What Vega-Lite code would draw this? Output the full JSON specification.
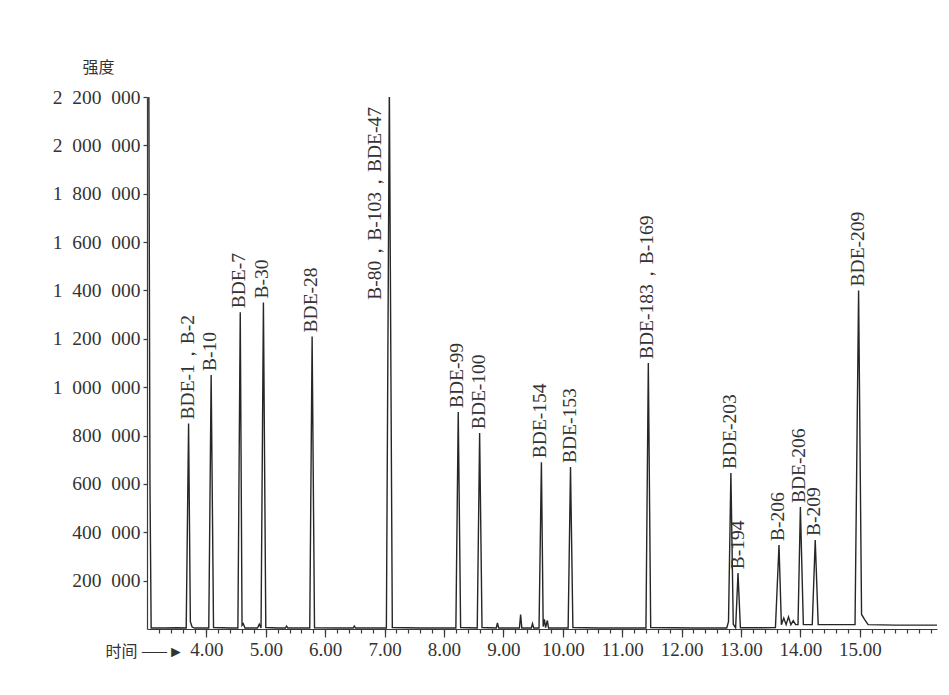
{
  "$schema": "https://vega.github.io/schema/vega-lite/v6.json",
  "width": 790,
  "height": 532,
  "autosize": {"type": "none"},
  "padding": {"left": 147, "top": 97, "right": 12, "bottom": 66},
  "background": "white",
  "config": {
    "view": {"stroke": null},
    "font": "Liberation Serif",
    "axis": {"grid": false, "domainColor": "#3a3a3a", "tickColor": "#3a3a3a", "labelColor": "#333333", "labelFont": "Liberation Serif", "domainWidth": 1.2, "tickWidth": 1.2}
  },
  "datasets": {
    "signal": [
      {"t": 3.03, "v": 2300000}, {"t": 3.05, "v": 600000}, {"t": 3.07, "v": 4000},
      {"t": 3.30, "v": 4000}, {"t": 3.50, "v": 5000}, {"t": 3.66, "v": 4000},
      {"t": 3.70, "v": 850000}, {"t": 3.73, "v": 30000}, {"t": 3.76, "v": 8000}, {"t": 3.80, "v": 4000},
      {"t": 4.04, "v": 4000}, {"t": 4.08, "v": 1050000}, {"t": 4.12, "v": 6000},
      {"t": 4.40, "v": 4000}, {"t": 4.53, "v": 4000}, {"t": 4.57, "v": 1310000}, {"t": 4.60, "v": 15000}, {"t": 4.62, "v": 22000}, {"t": 4.65, "v": 4000},
      {"t": 4.86, "v": 4000}, {"t": 4.89, "v": 20000}, {"t": 4.92, "v": 4000}, {"t": 4.96, "v": 1350000}, {"t": 5.00, "v": 6000},
      {"t": 5.20, "v": 4000}, {"t": 5.33, "v": 4000}, {"t": 5.35, "v": 12000}, {"t": 5.37, "v": 4000},
      {"t": 5.74, "v": 4000}, {"t": 5.78, "v": 1210000}, {"t": 5.82, "v": 5000},
      {"t": 6.20, "v": 4000}, {"t": 6.47, "v": 4000}, {"t": 6.49, "v": 12000}, {"t": 6.51, "v": 4000},
      {"t": 7.03, "v": 4000}, {"t": 7.08, "v": 2250000}, {"t": 7.13, "v": 6000},
      {"t": 7.60, "v": 4000}, {"t": 8.20, "v": 4000}, {"t": 8.24, "v": 897000}, {"t": 8.28, "v": 6000},
      {"t": 8.56, "v": 4000}, {"t": 8.60, "v": 810000}, {"t": 8.64, "v": 6000},
      {"t": 8.88, "v": 4000}, {"t": 8.90, "v": 25000}, {"t": 8.92, "v": 4000},
      {"t": 9.27, "v": 4000}, {"t": 9.29, "v": 60000}, {"t": 9.31, "v": 4000},
      {"t": 9.47, "v": 4000}, {"t": 9.49, "v": 22000}, {"t": 9.51, "v": 4000},
      {"t": 9.60, "v": 4000}, {"t": 9.64, "v": 690000}, {"t": 9.67, "v": 10000}, {"t": 9.69, "v": 40000}, {"t": 9.71, "v": 6000}, {"t": 9.74, "v": 35000}, {"t": 9.76, "v": 4000},
      {"t": 10.09, "v": 4000}, {"t": 10.13, "v": 670000}, {"t": 10.17, "v": 6000},
      {"t": 10.60, "v": 4000}, {"t": 11.40, "v": 4000}, {"t": 11.44, "v": 1100000}, {"t": 11.48, "v": 6000},
      {"t": 12.20, "v": 4000}, {"t": 12.76, "v": 4000}, {"t": 12.79, "v": 30000}, {"t": 12.83, "v": 645000}, {"t": 12.87, "v": 20000}, {"t": 12.91, "v": 5000}, {"t": 12.95, "v": 231000}, {"t": 12.99, "v": 5000},
      {"t": 13.30, "v": 5000}, {"t": 13.58, "v": 6000}, {"t": 13.64, "v": 347000}, {"t": 13.68, "v": 18000}, {"t": 13.72, "v": 45000}, {"t": 13.76, "v": 18000}, {"t": 13.80, "v": 50000}, {"t": 13.84, "v": 18000}, {"t": 13.88, "v": 35000}, {"t": 13.92, "v": 18000},
      {"t": 13.96, "v": 18000}, {"t": 14.00, "v": 504000}, {"t": 14.05, "v": 18000},
      {"t": 14.20, "v": 18000}, {"t": 14.25, "v": 368000}, {"t": 14.30, "v": 18000},
      {"t": 14.60, "v": 18000}, {"t": 14.92, "v": 18000}, {"t": 14.98, "v": 1400000}, {"t": 15.03, "v": 60000}, {"t": 15.08, "v": 40000}, {"t": 15.14, "v": 18000},
      {"t": 15.60, "v": 16000}, {"t": 16.30, "v": 16000}
    ],
    "labels": [
      {"t": 3.70, "v": 850000, "label": "BDE-1，B-2"},
      {"t": 4.08, "v": 1050000, "label": "B-10"},
      {"t": 4.57, "v": 1310000, "label": "BDE-7"},
      {"t": 4.96, "v": 1350000, "label": "B-30"},
      {"t": 5.78, "v": 1210000, "label": "BDE-28"},
      {"t": 6.85, "v": 1345000, "label": "B-80，B-103，BDE-47"},
      {"t": 8.24, "v": 897000, "label": "BDE-99"},
      {"t": 8.60, "v": 810000, "label": "BDE-100"},
      {"t": 9.64, "v": 690000, "label": "BDE-154"},
      {"t": 10.13, "v": 670000, "label": "BDE-153"},
      {"t": 11.44, "v": 1100000, "label": "BDE-183，B-169"},
      {"t": 12.83, "v": 645000, "label": "BDE-203"},
      {"t": 12.97, "v": 231000, "label": "B-194"},
      {"t": 13.64, "v": 347000, "label": "B-206"},
      {"t": 14.00, "v": 504000, "label": "BDE-206"},
      {"t": 14.25, "v": 368000, "label": "B-209"},
      {"t": 14.98, "v": 1400000, "label": "BDE-209"}
    ]
  },
  "layer": [
    {
      "data": {"name": "signal"},
      "mark": {"type": "line", "color": "#262626", "strokeWidth": 1.4, "clip": true},
      "encoding": {
        "x": {
          "field": "t", "type": "quantitative",
          "scale": {"domain": [3.0, 16.3], "nice": false, "zero": false},
          "axis": {
            "orient": "bottom",
            "values": [4, 5, 6, 7, 8, 9, 10, 11, 12, 13, 14, 15],
            "format": ".2f",
            "tickSize": 8, "labelPadding": 3, "labelFontSize": 19,
            "title": "时间 ——►", "titleFont": "Noto Sans CJK SC", "titleFontSize": 16, "titleFontWeight": "normal", "titleColor": "#333333",
            "titleX": -42, "titleY": 22, "titleAlign": "left", "titleBaseline": "middle", "titleAngle": 0
          }
        },
        "y": {
          "field": "v", "type": "quantitative",
          "scale": {"domain": [0, 2200000], "nice": false, "zero": true},
          "axis": {
            "values": [200000, 400000, 600000, 800000, 1000000, 1200000, 1400000, 1600000, 1800000, 2000000, 2200000],
            "labelExpr": "replace(format(datum.value, ','), regexp(',', 'g'), '\u2002')",
            "tickSize": 4, "labelPadding": 3, "labelFontSize": 19.5,
            "title": "强度", "titleFont": "Noto Sans CJK SC", "titleFontSize": 16, "titleFontWeight": "normal", "titleColor": "#333333",
            "titleAngle": 0, "titleX": -49, "titleY": -30, "titleAlign": "center", "titleBaseline": "middle"
          }
        }
      }
    },
    {
      "data": {"name": "labels"},
      "mark": {"type": "text", "angle": 270, "align": "left", "baseline": "middle", "dx": 4, "dy": -1, "font": "Liberation Serif", "fontSize": 19.5, "color": "#333333"},
      "encoding": {
        "x": {
          "field": "t", "type": "quantitative",
          "axis": {
            "orient": "bottom", "domain": false, "labels": false, "title": null, "tickSize": 4,
            "values": [3.2, 3.4, 3.6, 3.8, 4.0, 4.2, 4.4, 4.6, 4.8, 5.0, 5.2, 5.4, 5.6, 5.8, 6.0, 6.2, 6.4, 6.6, 6.8, 7.0, 7.2, 7.4, 7.6, 7.8, 8.0, 8.2, 8.4, 8.6, 8.8, 9.0, 9.2, 9.4, 9.6, 9.8, 10.0, 10.2, 10.4, 10.6, 10.8, 11.0, 11.2, 11.4, 11.6, 11.8, 12.0, 12.2, 12.4, 12.6, 12.8, 13.0, 13.2, 13.4, 13.6, 13.8, 14.0, 14.2, 14.4, 14.6, 14.8, 15.0, 15.2, 15.4, 15.6, 15.8, 16.0, 16.2]
          }
        },
        "y": {"field": "v", "type": "quantitative"},
        "text": {"field": "label"}
      }
    }
  ],
  "resolve": {"axis": {"x": "independent"}}
}
